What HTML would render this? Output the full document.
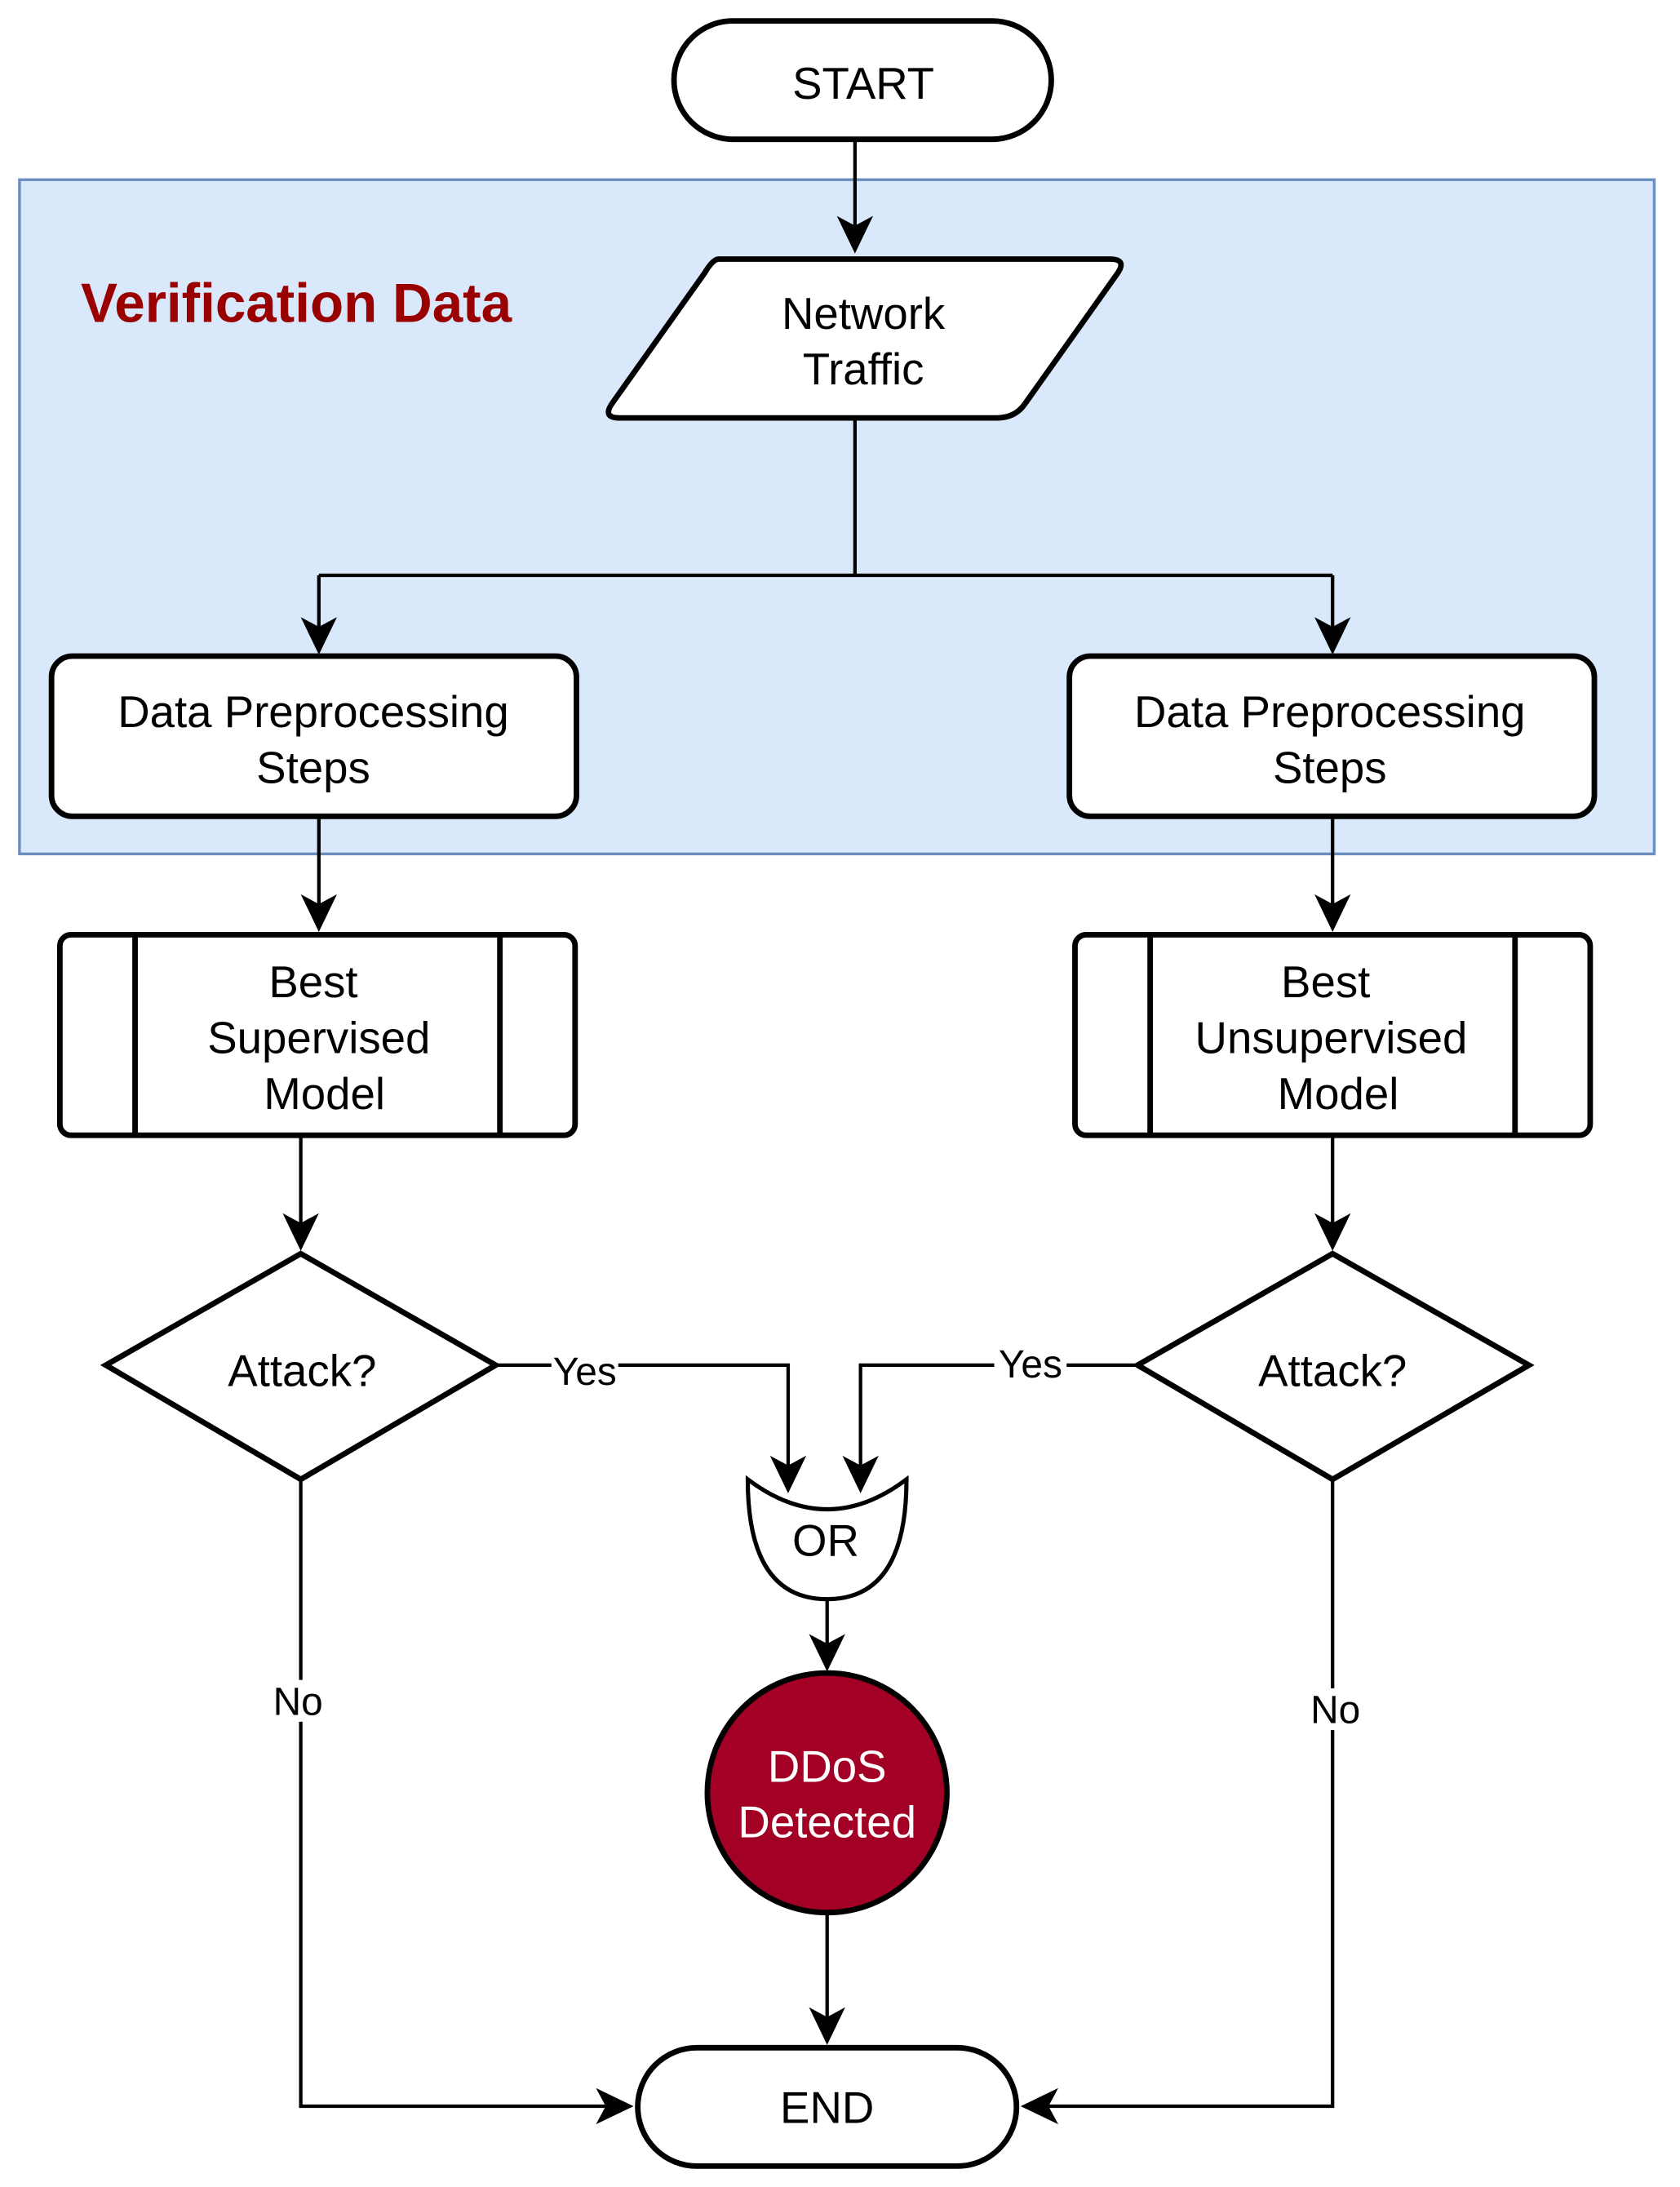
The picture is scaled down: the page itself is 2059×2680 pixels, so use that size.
<!DOCTYPE html>
<html><head><meta charset="utf-8"><style>html,body{margin:0;padding:0;background:#fff}svg{display:block}</style></head>
<body>
<svg width="2059" height="2680" viewBox="0 0 1206.5 1570" preserveAspectRatio="none" xmlns="http://www.w3.org/2000/svg" font-family="Liberation Sans, sans-serif">
<rect width="1207" height="1570" fill="#fff"/>
<rect x="14" y="129" width="1174" height="484" fill="#dae8fc" stroke="#6c8ebf" stroke-width="2"/>
<text x="58" y="231" font-size="39.5" font-weight="bold" fill="#990000">Verification Data</text>

<g fill="none" stroke="#000" stroke-width="2.5">
<path d="M614 100 V176"/>
<path d="M614 300 V413 M229 413 H957 M229 413 V462 M957 413 V462"/>
<path d="M229 586 V661 M957 586 V661"/>
<path d="M216 815 V890 M957 815 V890"/>
<path d="M356 980 H566 V1064 M817 980 H618 V1064"/>
<path d="M594 1148 V1192 M594 1373 V1460"/>
<path d="M216 1062 V1512 H447 M957 1062 V1512 H741"/>
</g>
<g fill="#000">
<path d="M614 182 l-13 -27 l13 7 l13 -7 z"/>
<path d="M229 470 l-13 -27 l13 7 l13 -7 z"/>
<path d="M957 470 l-13 -27 l13 7 l13 -7 z"/>
<path d="M229 669 l-13 -27 l13 7 l13 -7 z"/>
<path d="M957 669 l-13 -27 l13 7 l13 -7 z"/>
<path d="M216 898 l-13 -27 l13 7 l13 -7 z"/>
<path d="M957 898 l-13 -27 l13 7 l13 -7 z"/>
<path d="M566 1072 l-13 -27 l13 7 l13 -7 z"/>
<path d="M618 1072 l-13 -27 l13 7 l13 -7 z"/>
<path d="M594 1200 l-13 -27 l13 7 l13 -7 z"/>
<path d="M594 1468 l-13 -27 l13 7 l13 -7 z"/>
<path d="M455 1512 l-27 -13 l7 13 l-7 13 z"/>
<path d="M733 1512 l27 -13 l-7 13 l7 13 z"/>
</g>

<g fill="#fff" stroke="#000" stroke-width="4">
<rect x="484" y="15" width="271" height="85" rx="42.5"/>
<path d="M516 186 H797 Q810 186 802 197 L736 290 Q729 300 716 300 H445 Q432 300 440 289 L506 196 Q512 186 516 186 Z"/>
<rect x="37" y="471" width="377" height="115" rx="15"/>
<rect x="768" y="471" width="377" height="115" rx="15"/>
<rect x="43" y="671" width="370" height="144" rx="8"/>
<path d="M97 671 V815 M359 671 V815"/>
<rect x="772" y="671" width="370" height="144" rx="8"/>
<path d="M826 671 V815 M1088 671 V815"/>
<path d="M76 980 L216 900 L356 980 L216 1062 Z"/>
<path d="M817 980 L957 900 L1098 980 L957 1062 Z"/>
<path d="M537 1062 Q594 1105 651 1062 Q651 1148 594 1148 Q537 1148 537 1062 Z" stroke-width="3"/>
<circle cx="594" cy="1287" r="86" fill="#a20025"/>
<rect x="458" y="1470" width="272" height="85" rx="42.5"/>
</g>

<g font-size="32" text-anchor="middle" fill="#000">
<text x="620" y="71">START</text>
<text x="620" y="236">Network</text>
<text x="620" y="276">Traffic</text>
<text x="225" y="522">Data Preprocessing</text>
<text x="225" y="562">Steps</text>
<text x="955" y="522">Data Preprocessing</text>
<text x="955" y="562">Steps</text>
<text x="225" y="716">Best</text>
<text x="229" y="756">Supervised</text>
<text x="233" y="796">Model</text>
<text x="952" y="716">Best</text>
<text x="956" y="756">Unsupervised</text>
<text x="961" y="796">Model</text>
<text x="217" y="995">Attack?</text>
<text x="957" y="995">Attack?</text>
<text x="593" y="1117">OR</text>
<text x="594" y="1279" fill="#fff">DDoS</text>
<text x="594" y="1319" fill="#fff">Detected</text>
<text x="594" y="1524">END</text>
</g>
<g font-size="28" text-anchor="middle">
<rect x="396" y="968" width="48" height="26" fill="#fff"/>
<text x="420" y="994">Yes</text>
<rect x="714" y="964" width="52" height="26" fill="#fff"/>
<text x="740" y="989">Yes</text>
<rect x="194" y="1206" width="42" height="30" fill="#fff"/>
<text x="214" y="1231">No</text>
<rect x="938" y="1212" width="42" height="30" fill="#fff"/>
<text x="959" y="1237">No</text>
</g>
</svg>
</body></html>
